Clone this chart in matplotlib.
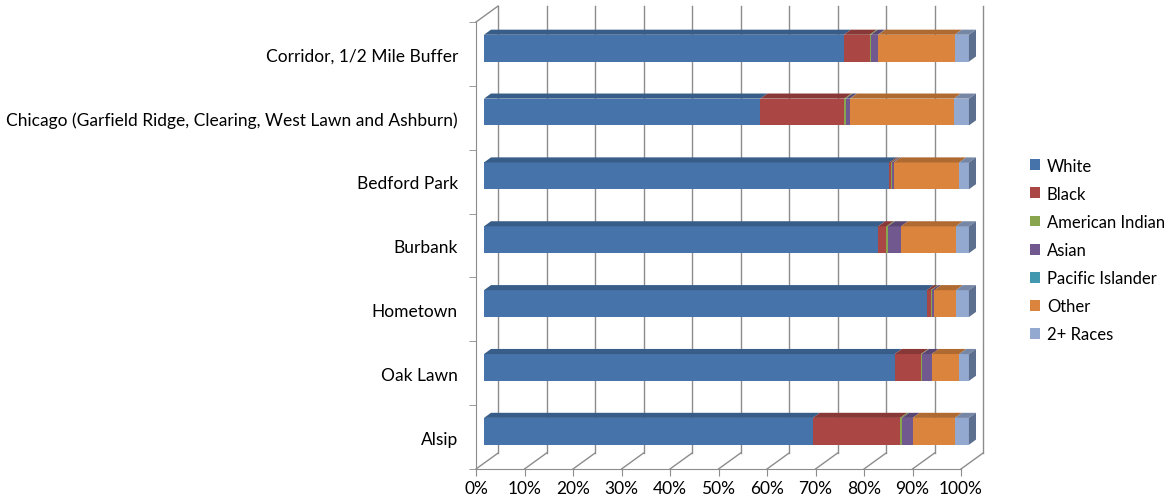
import numpy as np
import matplotlib
matplotlib.use('Agg')
import matplotlib.pyplot as plt
from matplotlib.patches import Polygon

plt.rcParams['font.family'] = ['Lato', 'DejaVu Sans']

#places, listed bottom to top as they are drawn
places = ['Alsip', 'Oak Lawn', 'Hometown', 'Burbank', 'Bedford Park',
          'Chicago (Garfield Ridge, Clearing, West Lawn and Ashburn)',
          'Corridor, 1/2 Mile Buffer']

#share of population in percent for each race
white = [67.8, 84.7, 91.3, 81.3, 83.6, 57.0, 74.2]
black = [18.0, 5.4, 0.8, 1.7, 0.4, 17.3, 5.3]
american_indian = [0.4, 0.2, 0.2, 0.3, 0.2, 0.3, 0.3]
asian = [2.2, 2.0, 0.5, 2.7, 0.3, 0.8, 1.4]
pacific_islander = [0.0, 0.0, 0.0, 0.0, 0.0, 0.1, 0.1]
other = [8.7, 5.7, 4.5, 11.3, 13.5, 21.4, 15.8]
two_plus = [2.9, 2.0, 2.7, 2.7, 2.0, 3.1, 2.9]

race_names = ['White', 'Black', 'American Indian', 'Asian',
              'Pacific Islander', 'Other', '2+ Races']
race_colors = ['#4674AA', '#AA4643', '#89A54E', '#71588F',
               '#4198AF', '#DB843D', '#93A9CF']
series = [white, black, american_indian, asian, pacific_islander, other, two_plus]

x_ticks = np.arange(0, 101, 10)
x_labels = ['%d%%' % p for p in x_ticks]

#fake 3d look: depth shift of the back wall in data units
dx, dy = 4.55, 0.25
f0, f1 = 0.36, 0.68   #front and back of the bars inside the depth
bar_h = 0.42
grid_col = '#8C8C8C'
fsize = 12.5

fig = plt.figure(figsize=(11.71, 5.02), dpi=100)
ax = fig.add_axes([476/1171, 32/502, 485/1171, 447/502])
ax.set_xlim(0, 100)
ax.set_ylim(-0.5, len(places) - 0.5)
y_bottom, y_top = -0.5, len(places) - 0.5

#back wall grid lines
for p in x_ticks:
    ax.plot([p + dx, p + dx], [y_bottom + dy, y_top + dy], color=grid_col, lw=1,
            clip_on=False, zorder=0)
    #floor lines going back from the front ticks
    ax.plot([p, p + dx], [y_bottom, y_bottom + dy], color=grid_col, lw=1,
            clip_on=False, zorder=0)
#top edge of the left wall
ax.plot([0, dx], [y_top, y_top + dy], color=grid_col, lw=1, clip_on=False, zorder=0)

#stacked bars, front faces
ypos = np.arange(len(places))
left = np.zeros(len(places))
for vals, name, col in zip(series, race_names, race_colors):
    vals = np.array(vals)
    bars = ax.barh(ypos + f0 * dy, vals, left=left + f0 * dx, height=bar_h,
                   color=col, linewidth=0, label=name, zorder=2)
    for b in bars:
        b.set_clip_on(False)
    shade = np.array(matplotlib.colors.to_rgb(col)) * 0.8
    for i in range(len(places)):
        l, r = left[i], left[i] + vals[i]
        if vals[i] <= 0:
            continue
        yt = ypos[i] + bar_h / 2
        top = [(l + f0 * dx, yt + f0 * dy), (r + f0 * dx, yt + f0 * dy),
               (r + f1 * dx, yt + f1 * dy), (l + f1 * dx, yt + f1 * dy)]
        ax.add_patch(Polygon(top, closed=True, color=shade, lw=0, zorder=2,
                             clip_on=False))
    left = left + vals

#right end of each bar
for i in range(len(places)):
    r = left[i]
    yb, yt = ypos[i] - bar_h / 2, ypos[i] + bar_h / 2
    side = [(r + f0 * dx, yb + f0 * dy), (r + f0 * dx, yt + f0 * dy),
            (r + f1 * dx, yt + f1 * dy), (r + f1 * dx, yb + f1 * dy)]
    ax.add_patch(Polygon(side, closed=True, color='#5D6F8E', lw=0, zorder=2,
                         clip_on=False))

ax.set_xticks(x_ticks)
ax.set_xticklabels(x_labels, fontsize=fsize)
ax.set_yticks(ypos)
ax.set_yticklabels(places, fontsize=fsize)
ax.set_yticks(np.arange(-0.5, len(places)), minor=True)
ax.tick_params(axis='x', direction='out', length=5, color=grid_col, pad=3)
ax.tick_params(axis='y', which='major', length=0, pad=13)
ax.tick_params(axis='y', which='minor', direction='out', length=5, color=grid_col)
for s in ['top', 'right']:
    ax.spines[s].set_visible(False)
for s in ['left', 'bottom']:
    ax.spines[s].set_color(grid_col)
ax.patch.set_visible(False)

fig.legend(loc='center left', bbox_to_anchor=(1015/1171, 0.5), frameon=False,
           fontsize=12, handlelength=0.62, handleheight=0.62, handletextpad=0.4,
           labelspacing=0.73)

plt.savefig('out.png', dpi=100)
